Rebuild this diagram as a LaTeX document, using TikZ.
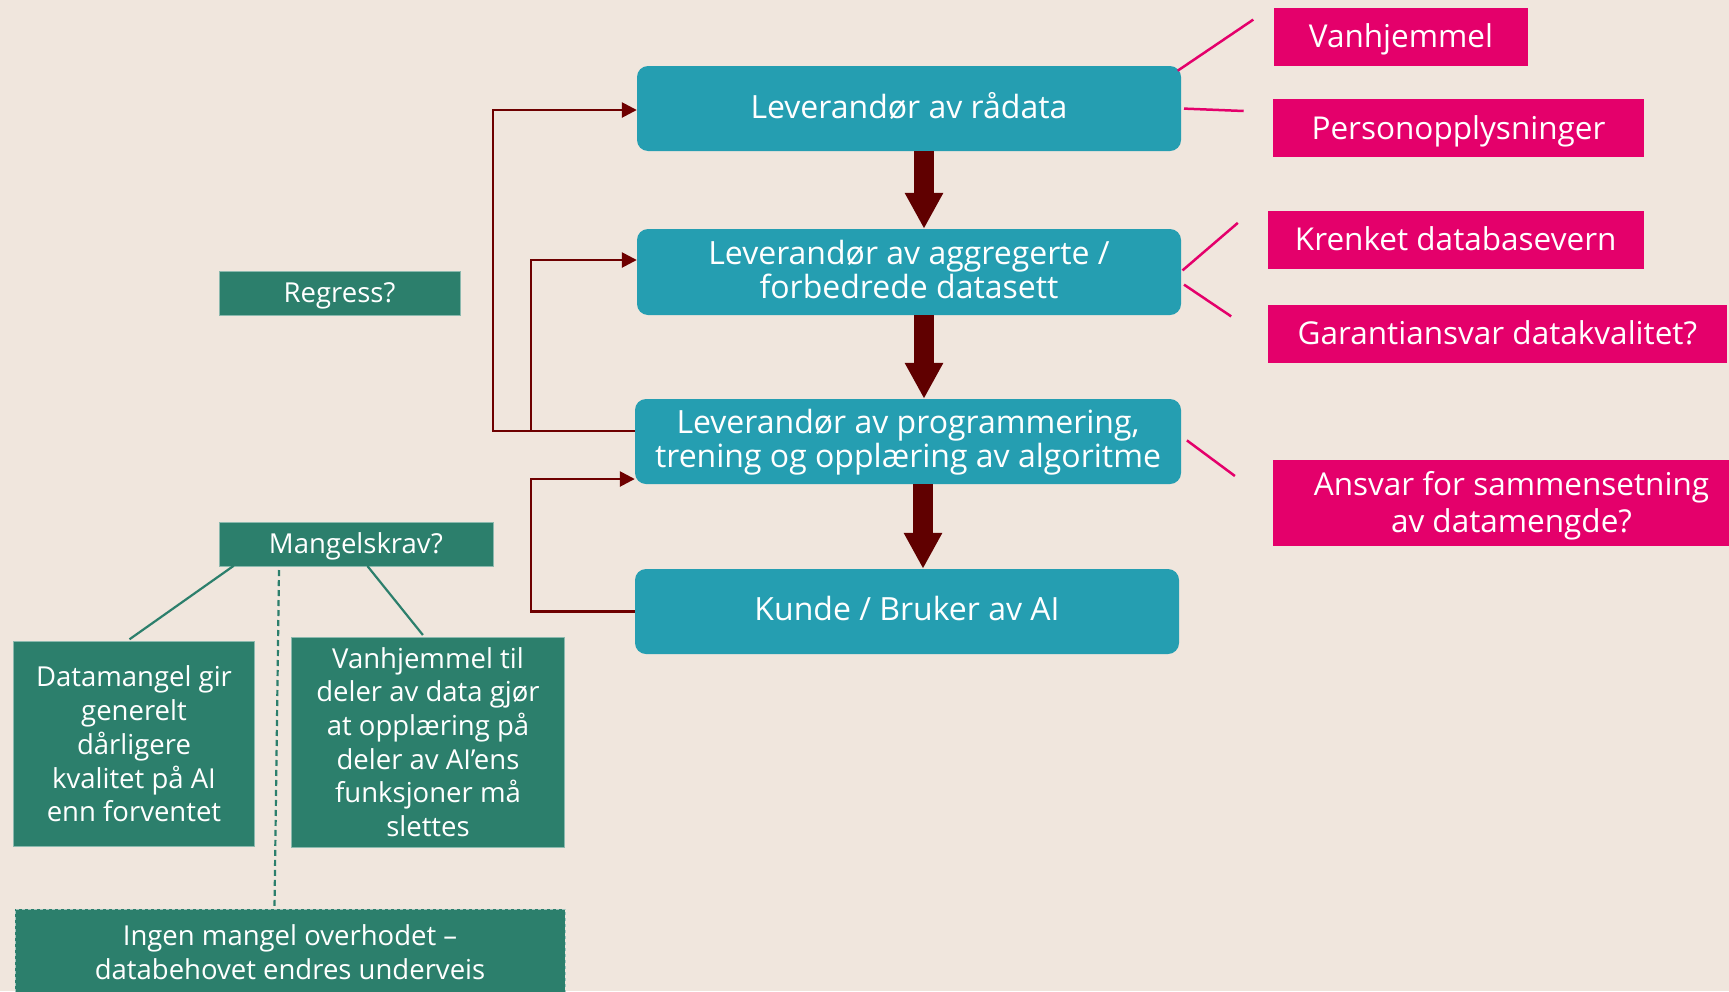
\documentclass[tikz,border=0pt]{standalone}
\usepackage{fontspec}
\setmainfont{Open Sans}
\usetikzlibrary{arrows.meta}
\definecolor{bgc}{HTML}{F0E6DD}
\definecolor{tealc}{HTML}{259EB1}
\definecolor{pinkc}{HTML}{E4006B}
\definecolor{greenc}{HTML}{2C7F6C}
\definecolor{redc}{HTML}{6E0000}
\definecolor{bigred}{HTML}{600000}
\tikzset{
 tealbox/.style={rectangle, rounded corners=11pt, fill=tealc, text=white, inner sep=0pt, align=center, text depth=6pt, font=\fontsize{32}{34}\selectfont},
 pinkbox/.style={rectangle, fill=pinkc, text=white, inner sep=0pt, align=center, text depth=1.5pt, font=\fontsize{31.5}{37.5}\selectfont},
 greenbox/.style={rectangle, fill=greenc, draw=greenc!55!white, line width=0.8pt, text=white, inner sep=0pt, align=center, font=\fontsize{27.5}{33.7}\selectfont},
 greenone/.style={greenbox, text depth=1pt},
 dashbox/.style={greenbox, draw=greenc!45!white, dashed, line width=1pt},
 thinred/.style={draw=redc, line width=2.6pt},
 thinarrow/.style={thinred, -{Triangle[length=15pt,width=15pt]}},
 bigarrow/.style={draw=bigred, line width=20pt, -{Triangle[length=36pt,width=36pt]}},
 pinkline/.style={draw=pinkc, line width=2.5pt},
 greenline/.style={draw=greenc, line width=2.2pt},
 greendash/.style={draw=greenc, line width=2.2pt, dash pattern=on 6pt off 4pt},
}
\begin{document}
\begin{tikzpicture}[x=1pt,y=-1pt]
\fill[bgc] (0,0) rectangle (1729,991);
\clip (0,0) rectangle (1729,991);

% main teal chain
\node[tealbox, minimum width=544pt, minimum height=85pt] (b1) at (909,108.5) {Leverandør av rådata};
\node[tealbox, minimum width=544pt, minimum height=86pt] (b2) at (909,272) {Leverandør av aggregerte /\\forbedrede datasett};
\node[tealbox, minimum width=546pt, minimum height=85pt] (b3) at (908,441.5) {Leverandør av programmering,\\trening og opplæring av algoritme};
\node[tealbox, minimum width=544pt, minimum height=85pt] (b4) at (907,611.5) {Kunde / Bruker av AI};

\coordinate (ax1) at (924,0);
\coordinate (ax3) at (923,0);
\draw[bigarrow] (b1.south -| ax1) -- (b2.north -| ax1);
\draw[bigarrow] (b2.south -| ax1) -- (b3.north -| ax1);
\draw[bigarrow] (b3.south -| ax3) -- (b4.north -| ax3);

% pink boxes
\node[pinkbox, minimum width=254pt, minimum height=58pt] (p1) at (1401,36.5) {Vanhjemmel};
\node[pinkbox, minimum width=371pt, minimum height=58pt] (p2) at (1458.5,128) {Personopplysninger};
\node[pinkbox, minimum width=376pt, minimum height=58pt] (p3) at (1455.7,239.6) {Krenket databasevern};
\node[pinkbox, minimum width=459pt, minimum height=58pt] (p4) at (1497.4,333.7) {Garantiansvar datakvalitet?};
\node[pinkbox, minimum width=477pt, minimum height=86pt] (p5) at (1511.5,502.7) {Ansvar for sammensetning\\av datamengde?};

\coordinate (l1a) at (1177.7,70.7);  \coordinate (l1b) at (1253.3,19.6);
\coordinate (l2a) at (1184,108.6);   \coordinate (l2b) at (1243.7,111);
\coordinate (l3a) at (1182.5,270.4); \coordinate (l3b) at (1237.8,222.9);
\coordinate (l4a) at (1184,284.6);   \coordinate (l4b) at (1231.2,316.4);
\coordinate (l5a) at (1186.9,440.4); \coordinate (l5b) at (1234.9,476);
\draw[pinkline] (l1a) -- (l1b);
\draw[pinkline] (l2a) -- (l2b);
\draw[pinkline] (l3a) -- (l3b);
\draw[pinkline] (l4a) -- (l4b);
\draw[pinkline] (l5a) -- (l5b);

% green boxes
\node[greenone, minimum width=241pt, minimum height=44pt] (rg) at (339.5,293) {Regress?};
\node[greenone, minimum width=274pt, minimum height=44pt] (mk) at (356,544) {Mangelskrav?};
\node[greenbox, minimum width=241pt, minimum height=205pt] (dm) at (134,744) {Datamangel gir\\generelt\\dårligere\\kvalitet på AI\\enn forventet};
\node[greenbox, minimum width=273.5pt, minimum height=210pt] (vh) at (428,742) {Vanhjemmel til\\deler av data gjør\\at opplæring på\\deler av AI’ens\\funksjoner må\\slettes};
\node[dashbox, minimum width=550pt, minimum height=86pt] (im) at (290,952) {Ingen mangel overhodet –\\databehovet endres underveis};

\coordinate (g1a) at (233.8,565.7); \coordinate (g1b) at (129.5,639.3);
\coordinate (g2a) at (367.4,566);   \coordinate (g2b) at (422.9,635);
\coordinate (g3a) at (279,570);     \coordinate (g3b) at (274.5,908);
\draw[greenline] (g1a) -- (g1b);
\draw[greenline] (g2a) -- (g2b);
\draw[greendash] (g3a) -- (g3b);

% red connectors
\coordinate (a1) at (493,431);
\coordinate (a2) at (493,110);
\coordinate (c1) at (531,431);
\coordinate (c2) at (531,260);
\coordinate (d1) at (531,612);
\coordinate (d2) at (531,479);
\draw[thinarrow] (b3.west |- a1) -- (a1) -- (a2) -- (b1.west |- a2);
\draw[thinarrow] (c1) -- (c2) -- (b2.west |- c2);
\draw[thinarrow] (b4.west) -- (b4.west -| d1) -- (d2) -- (b3.west |- d2);
\end{tikzpicture}
\end{document}
